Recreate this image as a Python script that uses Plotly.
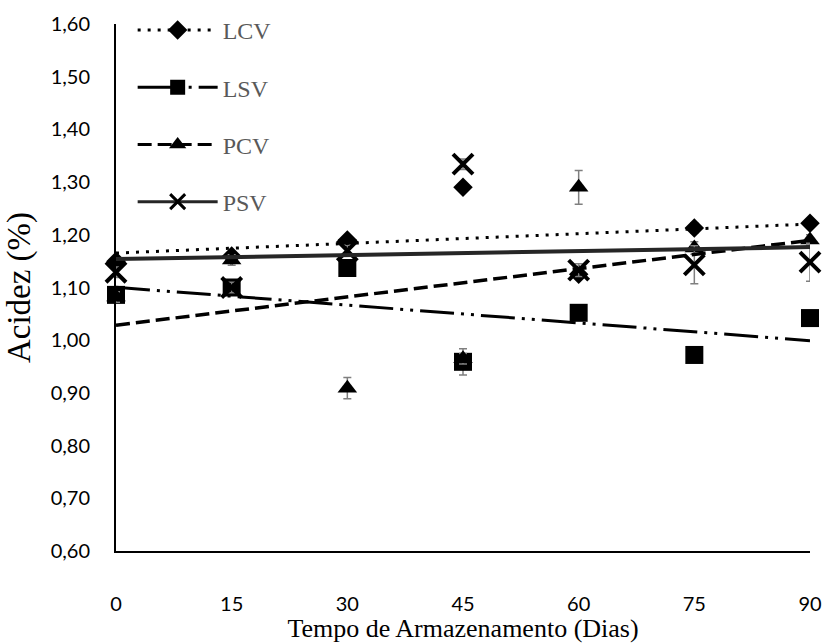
import numpy as np
import plotly.graph_objects as go

days = [0, 15, 30, 45, 60, 75, 90]
lcv = [1.150, 1.160, 1.190, 1.290, 1.125, 1.213, 1.222]
lsv = [1.086, 1.100, 1.137, 0.959, 1.052, 0.972, 1.042]
pcv = [1.082, 1.152, 0.909, 0.965, 1.290, 1.175, 1.190]
psv = [1.129, 1.100, 1.170, 1.334, 1.133, 1.143, 1.148]

lcv_err = [0.005, 0.005, 0.005, 0.005, 0.005, 0.010, 0.005]
lsv_err = [0.010, 0.010, 0.010, 0.025, 0.010, 0.010, 0.010]
pcv_err = [0.010, 0.010, 0.020, 0.010, 0.032, 0.012, 0.010]
psv_err = [0.010, 0.010, 0.010, 0.010, 0.012, 0.036, 0.036]

series_names = ["LCV", "LSV", "PCV", "PSV"]
x_ticks = [0, 15, 30, 45, 60, 75, 90]
y_ticks = [0.6, 0.7, 0.8, 0.9, 1.0, 1.1, 1.2, 1.3, 1.4, 1.5, 1.6]

series = [
    dict(name="LCV", y=lcv, err=lcv_err, symbol="diamond", size=15, lw=0,
         dash="3px,7px", color="#000000", width=3),
    dict(name="LSV", y=lsv, err=lsv_err, symbol="square", size=18, lw=0,
         dash="34px,7px,3px,7px,3px,7px", color="#000000", width=3),
    dict(name="PCV", y=pcv, err=pcv_err, symbol="triangle-up", size=17, lw=0,
         dash="14px,6px", color="#000000", width=3.5),
    dict(name="PSV", y=psv, err=psv_err, symbol="x-thin", size=20, lw=4,
         dash="solid", color="#262626", width=4),
]

fig = go.Figure()
xs = np.array(days, dtype=float)
x_line = np.array([min(days), max(days)], dtype=float)

# markers with error bars
for s in series:
    fig.add_trace(go.Scatter(
        x=days, y=s["y"], mode="markers", showlegend=False,
        marker=dict(symbol=s["symbol"], size=s["size"], color="#000000",
                    line=dict(width=s["lw"], color="#000000")),
        error_y=dict(type="data", array=s["err"], visible=True,
                     color="#7f7f7f", thickness=1.5, width=4),
        hoverinfo="x+y", name=s["name"], cliponaxis=False,
    ))

# linear trendlines
for s in series:
    k, b = np.polyfit(xs, np.array(s["y"]), 1)
    fig.add_trace(go.Scatter(
        x=x_line, y=k * x_line + b, mode="lines", showlegend=False,
        line=dict(color=s["color"], width=s["width"], dash=s["dash"]),
        hoverinfo="skip",
    ))

# legend entries
for i, s in enumerate(series):
    fig.add_trace(go.Scatter(
        x=[None], y=[None], mode="lines+markers", name=s["name"],
        legendgroup=s["name"],
        marker=dict(symbol=s["symbol"], size=min(s["size"], 15), color="#000000",
                    line=dict(width=min(s["lw"], 3), color="#000000")),
        line=dict(color=s["color"], width=3, dash=s["dash"]),
    ))

fig.update_layout(
    width=824, height=643,
    margin=dict(l=116, r=14, t=24, b=92, autoexpand=False),
    paper_bgcolor="white", plot_bgcolor="white",
    separators=", ",
    showlegend=True,
    legend=dict(x=0.024, y=0.9876, yref="container", xanchor="left", yanchor="top",
                bgcolor="rgba(0,0,0,0)", tracegroupgap=23, itemwidth=80,
                font=dict(family="Liberation Serif", size=24, color="#595959")),
    xaxis=dict(range=[0, 90], tickvals=x_ticks, showgrid=False, zeroline=False,
               showline=True, linecolor="#000000", linewidth=2, ticks="",
               ticklabelstandoff=34, automargin=False,
               tickfont=dict(family="Lato", size=20, color="#000000"),
               title=dict(text="Tempo de Armazenamento (Dias)", standoff=3,
                          font=dict(family="Liberation Serif", size=26, color="#000000"))),
    yaxis=dict(range=[0.6, 1.6], tickvals=y_ticks, tickformat=".2f",
               showgrid=False, zeroline=False, automargin=False,
               showline=True, linecolor="#000000", linewidth=2, ticks="",
               ticklabelstandoff=20,
               tickfont=dict(family="Lato", size=20, color="#000000"),
               title=dict(text="Acidez (%)", standoff=10,
                          font=dict(family="Liberation Serif", size=33, color="#000000"))),
)

fig.write_html("out.html")
